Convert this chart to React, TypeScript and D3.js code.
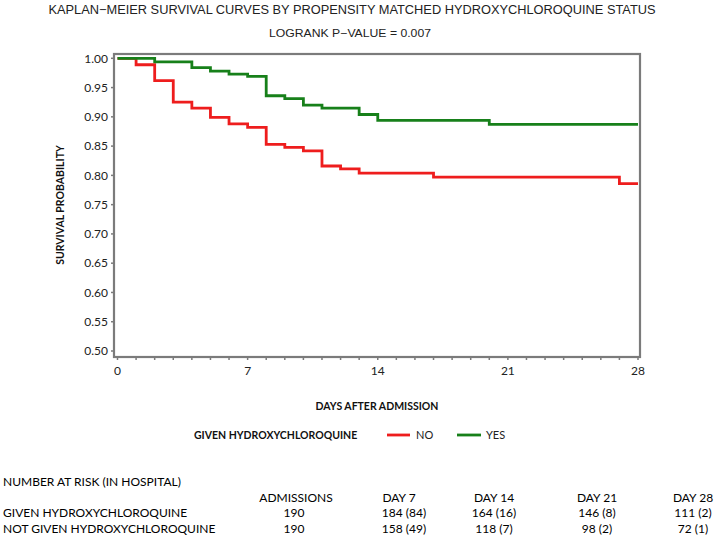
import React from "react";
import * as d3 from "d3";

const yesTimes = [0, 2, 4, 5, 6, 7, 8, 9, 10, 11, 13, 14, 20, 28];
const yesSurv = [1.0, 0.994, 0.984, 0.978, 0.973, 0.969, 0.936, 0.931, 0.92, 0.915, 0.904, 0.894, 0.887, 0.887];
const noTimes = [0, 1, 2, 3, 4, 5, 6, 7, 8, 9, 10, 11, 12, 13, 17, 27, 28];
const noSurv = [1.0, 0.989, 0.962, 0.925, 0.915, 0.899, 0.888, 0.882, 0.853, 0.848, 0.842, 0.816, 0.811, 0.804, 0.797, 0.786, 0.786];

const yTicks = [0.5, 0.55, 0.6, 0.65, 0.7, 0.75, 0.8, 0.85, 0.9, 0.95, 1.0];
const xLabelTicks = [0, 7, 14, 21, 28];

const tableHeaders = ["ADMISSIONS", "DAY 7", "DAY 14", "DAY 21", "DAY 28"];
const rowLabels = ["GIVEN HYDROXYCHLOROQUINE", "NOT GIVEN HYDROXYCHLOROQUINE"];
const givenRow = ["190", "184 (84)", "164 (16)", "146 (8)", "111 (2)"];
const notGivenRow = ["190", "158 (49)", "118 (7)", "98 (2)", "72 (1)"];

const RED = "#ee1d1d";
const GREEN = "#17801a";
const FRAME = "#7b7b7b";
const SANS = "Lato, 'Open Sans', sans-serif";
const NARROW = "'Liberation Sans', Arial, sans-serif";

export default function App() {
  const x = d3.scaleLinear().domain([0, 28]).range([117.5, 638]);
  const y = d3.scaleLinear().domain([0.5, 1]).range([351, 58.3]);
  const frame = { l: 114, r: 640, t: 54, b: 357 };

  const line = d3
    .line<[number, number]>()
    .x((d) => x(d[0]))
    .y((d) => y(d[1]))
    .curve(d3.curveStepAfter);

  const yesPts = yesTimes.map((t, i) => [t, yesSurv[i]] as [number, number]);
  const noPts = noTimes.map((t, i) => [t, noSurv[i]] as [number, number]);
  const minor = d3.range(0, 29);

  const headerX = [296, 399, 494, 597, 693];
  const valueX = [294, 404, 494, 597, 693];

  return (
    <svg
      width={716}
      height={537}
      style={{ position: "absolute", left: 0, top: 0, background: "#fff" }}
    >
      <text
        x={352}
        y={14}
        textAnchor="middle"
        fontFamily={NARROW}
        fontSize={12.5}
        fill="#222"
        textLength={607}
        lengthAdjust="spacingAndGlyphs"
      >
        KAPLAN−MEIER SURVIVAL CURVES BY PROPENSITY MATCHED HYDROXYCHLOROQUINE STATUS
      </text>
      <text
        x={350}
        y={37}
        textAnchor="middle"
        fontFamily={NARROW}
        fontSize={11}
        fill="#222"
        textLength={162}
        lengthAdjust="spacingAndGlyphs"
      >
        LOGRANK P−VALUE = 0.007
      </text>

      {yTicks.map((v) => (
        <g key={v}>
          <line x1={frame.l - 3} x2={frame.l} y1={y(v)} y2={y(v)} stroke={FRAME} strokeWidth={1.5} />
          <text
            x={108}
            y={y(v)}
            dy="0.35em"
            textAnchor="end"
            fontFamily={SANS}
            fontSize={12}
            fill="#222"
          >
            {v.toFixed(2)}
          </text>
        </g>
      ))}
      {minor.map((d) => (
        <line
          key={d}
          x1={x(d)}
          x2={x(d)}
          y1={frame.b}
          y2={frame.b + 3}
          stroke={FRAME}
          strokeWidth={1.5}
        />
      ))}
      {xLabelTicks.map((d) => (
        <text
          key={d}
          x={x(d)}
          y={371}
          dy="0.35em"
          textAnchor="middle"
          fontFamily={SANS}
          fontSize={12}
          fill="#222"
        >
          {d}
        </text>
      ))}

      <path d={line(noPts) || ""} fill="none" stroke={RED} strokeWidth={2.8} />
      <path d={line(yesPts) || ""} fill="none" stroke={GREEN} strokeWidth={2.8} />

      <rect
        x={frame.l}
        y={frame.t}
        width={frame.r - frame.l}
        height={frame.b - frame.t}
        fill="none"
        stroke={FRAME}
        strokeWidth={2.2}
      />

      <text
        transform={`translate(60,205) rotate(-90)`}
        textAnchor="middle"
        dy="0.35em"
        fontFamily={SANS}
        fontWeight="bold"
        fontSize={10.5}
        fill="#111"
      >
        SURVIVAL PROBABILITY
      </text>
      <text
        x={377}
        y={406}
        dy="0.35em"
        textAnchor="middle"
        fontFamily={SANS}
        fontWeight="bold"
        fontSize={10.5}
        fill="#111"
      >
        DAYS AFTER ADMISSION
      </text>

      <text x={194} y={435} dy="0.35em" fontFamily={SANS} fontWeight="bold" fontSize={10.5} fill="#111">
        GIVEN HYDROXYCHLOROQUINE
      </text>
      <line x1={387} x2={410} y1={435} y2={435} stroke={RED} strokeWidth={2.8} />
      <text x={416} y={435} dy="0.35em" fontFamily={SANS} fontSize={11} fill="#222">
        NO
      </text>
      <line x1={457} x2={481} y1={435} y2={435} stroke={GREEN} strokeWidth={2.8} />
      <text x={486} y={435} dy="0.35em" fontFamily={SANS} fontSize={11} fill="#222">
        YES
      </text>

      <text x={3} y={482} dy="0.35em" fontFamily={SANS} fontSize={12} fill="#000">
        NUMBER AT RISK (IN HOSPITAL)
      </text>
      {tableHeaders.map((h, i) => (
        <text key={h} x={headerX[i]} y={498} dy="0.35em" textAnchor="middle" fontFamily={SANS} fontSize={12} fill="#000">
          {h}
        </text>
      ))}
      {rowLabels.map((r, j) => (
        <text key={r} x={3} y={513 + j * 15.5} dy="0.35em" fontFamily={SANS} fontSize={12} fill="#000">
          {r}
        </text>
      ))}
      {givenRow.map((v, i) => (
        <text key={"g" + i} x={valueX[i]} y={513} dy="0.35em" textAnchor="middle" fontFamily={SANS} fontSize={12} fill="#000">
          {v}
        </text>
      ))}
      {notGivenRow.map((v, i) => (
        <text key={"n" + i} x={valueX[i]} y={528.5} dy="0.35em" textAnchor="middle" fontFamily={SANS} fontSize={12} fill="#000">
          {v}
        </text>
      ))}
    </svg>
  );
}
